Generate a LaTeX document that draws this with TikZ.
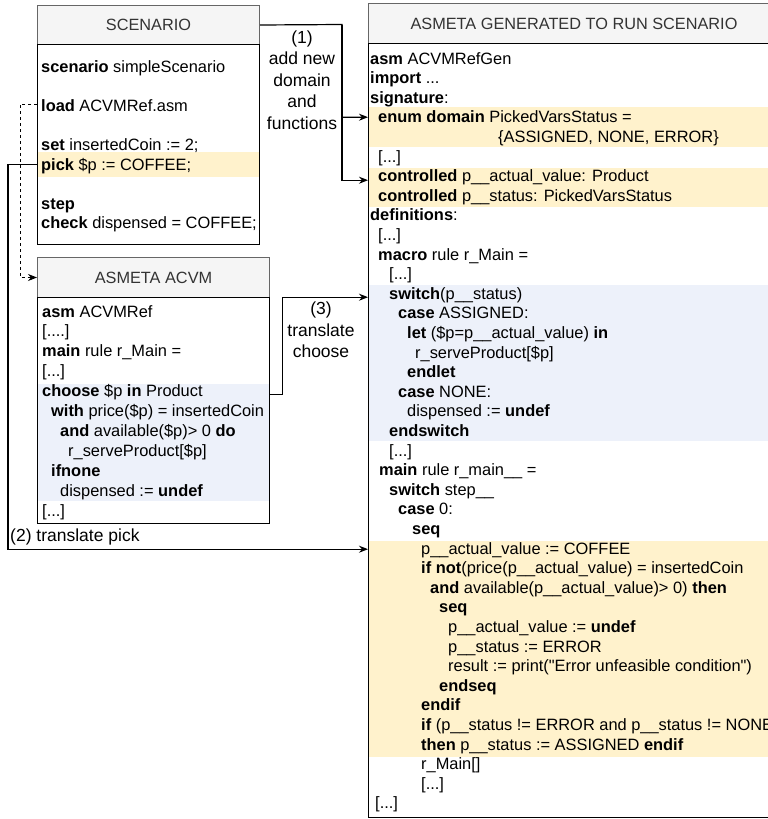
\documentclass[tikz,border=0pt]{standalone}
\usepackage{fontspec}
\setmainfont{Liberation Sans}
\usepackage{xcolor}
\usetikzlibrary{arrows.meta,positioning}
\definecolor{hdrfill}{HTML}{F5F5F5}
\definecolor{hdrline}{HTML}{666666}
\definecolor{hdrtext}{HTML}{333333}
\definecolor{pickY}{HTML}{FFF2CC}
\definecolor{chooseB}{HTML}{EDF1FA}
\newcommand{\kw}[1]{\textbf{#1}}
\newcommand{\indby}[1]{\hspace*{#1pt}}
\newcommand{\elided}{{[}...{]}}
\tikzset{
  >={Stealth[length=9pt,width=7pt]},
  head/.style={draw=hdrline, fill=hdrfill, line width=1pt, anchor=north west, inner sep=0pt,
               text=hdrtext, font=\fontsize{16.3}{19.6}\selectfont},
  frame/.style={draw=black, line width=1.2pt, anchor=north west, inner sep=0pt},
  code/.style={anchor=north west, align=left, inner sep=0pt, font=\fontsize{16.4}{19.6}\selectfont},
  hlY/.style={fill=pickY, anchor=north west, inner sep=0pt},
  hlB/.style={fill=chooseB, anchor=north west, inner sep=0pt},
  flow/.style={->, line width=1.2pt},
  lbl/.style={align=center, inner sep=0pt, font=\fontsize{17.5}{21.5}\selectfont},
}
\begin{document}
\begin{tikzpicture}[x=1pt, y=-1pt]
  \useasboundingbox (0,0) rectangle (768,819);
  \clip (0,0) rectangle (768,819);
  \fill[white] (0,0) rectangle (768,819);
  % highlighted parts
  \node[hlY, minimum width=222pt, minimum height=25pt] (pickhl) at (37,152) {};
  \node[hlB, minimum width=232pt, minimum height=117pt] (choosehl) at (37,384) {};
  \node[hlY, minimum width=411pt, minimum height=40pt] (enumhl) at (368,107) {};
  \node[hlY, minimum width=411pt, minimum height=39pt] (ctrlhl) at (368,168) {};
  \node[hlB, minimum width=411pt, minimum height=156pt] (switchhl) at (368,285) {};
  \node[hlY, minimum width=411pt, minimum height=216pt] (seqhl) at (368,541) {};
  % boxes
  \node[head, minimum width=222pt, minimum height=39pt] (scenhead) at (37,5) {SCENARIO};
  \node[frame, minimum width=222pt, minimum height=200pt] (scenbody) at (37,44) {};
  \node[head, minimum width=232pt, minimum height=40pt] (acvmhead) at (37,257) {ASMETA ACVM};
  \node[frame, minimum width=232pt, minimum height=226pt] (acvmbody) at (37,297) {};
  \node[head, minimum width=411pt, minimum height=40pt] (genhead) at (368,3) {ASMETA GENERATED TO RUN SCENARIO};
  \node[frame, minimum width=411pt, minimum height=774pt] (genbody) at (368,43) {};
  % code
  \node[code] (scentext) at (41,60) {\kw{scenario} simpleScenario\\[19.6pt]
    \kw{load} ACVMRef.asm\\[19.6pt]
    \kw{set} insertedCoin := 2;\\
    \kw{pick} \$p := COFFEE;\\[19.6pt]
    \kw{step}\\
    \kw{check} dispensed = COFFEE;};
  \node[code, font=\fontsize{16.4}{19.9}\selectfont] (acvmtext) at (42,305) {\kw{asm} ACVMRef\\
    {[}....{]}\\
    \kw{main} rule r\_Main =\\
    \elided\\
    \kw{choose} \$p \kw{in} Product\\
    \indby{9}\kw{with} price(\$p) = insertedCoin\\
    \indby{18}\kw{and} available(\$p)> 0 \kw{do}\\
    \indby{26}r\_serveProduct[\$p]\\
    \indby{9}\kw{ifnone}\\
    \indby{18}dispensed := \kw{undef}\\
    \elided};
  \node[code] (gentext) at (370,52) {\kw{asm} ACVMRefGen\\
    \kw{import} ...\\
    \kw{signature}:\\
    \indby{8}\kw{enum domain} PickedVarsStatus =\\
    \indby{128}\{ASSIGNED, NONE, ERROR\}\\
    \indby{8}\elided\\
    \indby{8}\kw{controlled} p\_\_actual\_value: Product\\
    \indby{8}\kw{controlled} p\_\_status: PickedVarsStatus\\
    \kw{definitions}:\\
    \indby{8}\elided\\
    \indby{8}\kw{macro} rule r\_Main =\\
    \indby{19}\elided\\
    \indby{19}\kw{switch}(p\_\_status)\\
    \indby{28}\kw{case} ASSIGNED:\\
    \indby{37}\kw{let} (\$p=p\_\_actual\_value) \kw{in}\\
    \indby{45}r\_serveProduct[\$p]\\
    \indby{37}\kw{endlet}\\
    \indby{28}\kw{case} NONE:\\
    \indby{37}dispensed := \kw{undef}\\
    \indby{19}\kw{endswitch}\\
    \indby{19}\elided\\
    \indby{9}\kw{main} rule r\_main\_\_ =\\
    \indby{19}\kw{switch} step\_\_\\
    \indby{28}\kw{case} 0:\\
    \indby{42}\kw{seq}\\
    \indby{51}p\_\_actual\_value := COFFEE\\
    \indby{51}\kw{if} \kw{not}(price(p\_\_actual\_value) = insertedCoin\\
    \indby{60}\kw{and} available(p\_\_actual\_value)> 0) \kw{then}\\
    \indby{69}\kw{seq}\\
    \indby{78}p\_\_actual\_value := \kw{undef}\\
    \indby{78}p\_\_status := ERROR\\
    \indby{78}result := print(\textquotedbl Error unfeasible condition\textquotedbl)\\
    \indby{69}\kw{endseq}\\
    \indby{51}\kw{endif}\\
    \indby{51}\kw{if} (p\_\_status != ERROR and p\_\_status != NONE\\
    \indby{51}\kw{then} p\_\_status := ASSIGNED \kw{endif}\\
    \indby{51}r\_Main[]\\
    \indby{51}\elided\\
    \indby{5}\elided};
  % connectors
  \coordinate (fork) at (342,24.5);
  \coordinate (loadpt) at (37,104);
  \draw[flow] (scenhead.east) -- (fork) |- ([yshift=10pt]enumhl.west);
  \draw[flow] (fork) |- ([yshift=7.5pt]ctrlhl.west);
  \node[lbl] (addlbl) at (302,80) {(1)\\add new\\domain\\and\\functions};
  \draw[flow] (pickhl.west) -- ++(-29,0) |- ([yshift=100pt]seqhl.west);
  \node[lbl, anchor=west] (picklbl) at (10,537) {(2) translate pick};
  \draw[flow] ([yshift=48pt]choosehl.east) -- ++(13,0) |- ([yshift=66pt]switchhl.west);
  \node[lbl] (chooselbl) at (321,330) {(3)\\translate\\choose};
  \draw[flow, dashed, line width=1pt] (loadpt) -- ++(-17,0) |- (acvmhead.west);
\end{tikzpicture}
\end{document}
